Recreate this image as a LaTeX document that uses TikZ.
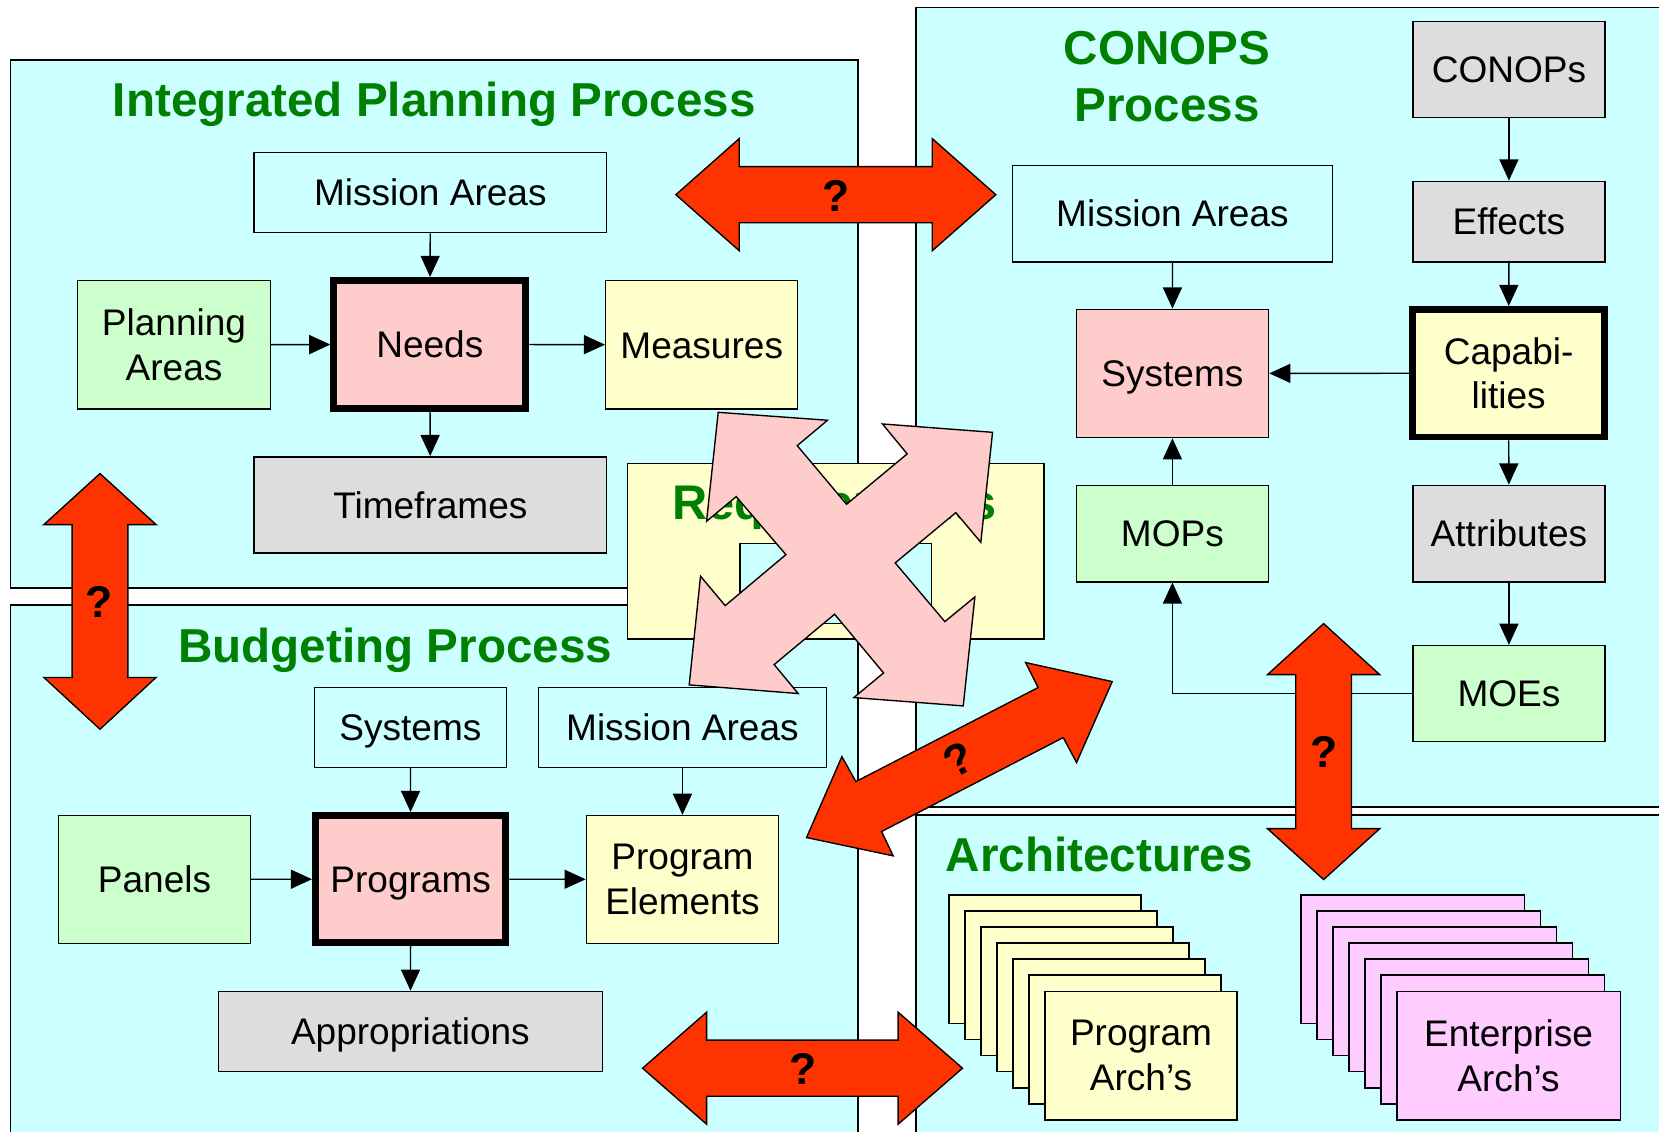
\documentclass[tikz,border=0pt]{standalone}
\usepackage{fontspec}
\setmainfont{Liberation Sans}
\usetikzlibrary{arrows.meta}
\definecolor{bgc}{HTML}{CCFFFF}
\definecolor{grn}{HTML}{CCFFCC}
\definecolor{pnk}{HTML}{FFCCCC}
\definecolor{ylw}{HTML}{FFFFCC}
\definecolor{gry}{HTML}{DDDDDD}
\definecolor{mgt}{HTML}{FFCCFF}
\definecolor{redarr}{HTML}{FF3300}
\definecolor{ttl}{HTML}{008000}
\begin{document}
\begin{tikzpicture}[x=1pt,y=-1pt,
  frame/.style={draw=black, line width=1.6pt, fill=bgc},
  bx/.style={draw=black, line width=1.3pt, inner sep=0pt, align=center,
             font=\fontsize{35}{42}\selectfont},
  sl/.style={text height=25.1pt, text depth=0pt},
  thickbox/.style={bx, line width=6.5pt},
  conn/.style={line width=1.3pt, -{Triangle[length=20pt,width=18pt]}},
  ttlf/.style={text=ttl, font=\fontsize{45}{54}\selectfont\bfseries, inner sep=0pt, align=center},
  redshape/.style={draw=black, line width=1.3pt, fill=redarr, line join=miter},
  qm/.style={font=\fontsize{42}{42}\selectfont\bfseries, inner sep=0pt},
  stk/.style={draw=black, line width=1.6pt},
]
\clip (0,0) rectangle (1568,1069);
\fill[white] (0,0) rectangle (1568,1069);

% frames
\draw[frame] (10,57) rectangle (811,555.5);
\draw[frame] (10,571.5) rectangle (811,1100);
\draw[frame] (866,7) rectangle (1600,763);
\draw[frame] (866,770.5) rectangle (1600,1100);

% titles
\node[ttlf, anchor=base] (tIPP) at (410.5,110) {Integrated Planning Process};
\node[ttlf] (tCON) at (1103,72.5) {CONOPS\\Process};
\node[ttlf, anchor=base] (tBUD) at (373.6,626.6) {Budgeting Process};
\node[ttlf, anchor=base] (tARC) at (1039,823.4) {Architectures};

% requirements box
\draw[line width=1.3pt, fill=ylw] (593.1,437.8) rectangle (986.6,604.1);
\node[ttlf, anchor=base, font=\fontsize{46}{54}\selectfont\bfseries] (tREQ) at (789,491) {Requirements};
\draw[line width=1.3pt, fill=bgc] (699.3,513.4) rectangle (880.4,589);

% Integrated planning process
\node[bx, sl, fill=bgc, minimum width=333.5pt, minimum height=76pt] (ipMA) at (406.75,182) {Mission Areas};
\node[bx, fill=grn, minimum width=182pt, minimum height=121pt] (ipPA) at (164.5,325.9) {Planning\\Areas};
\node[thickbox, sl, fill=pnk, minimum width=181.5pt, minimum height=121pt] (ipNeeds) at (406.25,325.5) {Needs};
\node[bx, sl, fill=ylw, minimum width=181.5pt, minimum height=121pt] (ipMeas) at (663.25,325.9) {Measures};
\node[bx, sl, fill=gry, minimum width=333.5pt, minimum height=91pt] (ipTime) at (406.75,477.25) {Timeframes};
\draw[conn] (ipMA) -- (ipNeeds);
\draw[conn] (ipPA) -- (ipNeeds);
\draw[conn] (ipNeeds) -- (ipMeas);
\draw[conn] (ipNeeds) -- (ipTime);

% CONOPS process
\node[bx, sl, fill=gry, minimum width=181.3pt, minimum height=91pt] (cCON) at (1426.15,65.75) {CONOPs};
\node[bx, sl, fill=gry, minimum width=181.3pt, minimum height=76.2pt] (cEff) at (1426.15,209.4) {Effects};
\node[bx, sl, fill=bgc, minimum width=302.7pt, minimum height=91.2pt] (cMA) at (1108.15,201.9) {Mission Areas};
\node[bx, sl, fill=pnk, minimum width=181.8pt, minimum height=121.3pt] (cSys) at (1108.1,352.95) {Systems};
\node[thickbox, fill=ylw, minimum width=181pt, minimum height=120.5pt] (cCap) at (1425.9,352.75) {Capabi-\\lities};
\node[bx, sl, fill=grn, minimum width=181.8pt, minimum height=91.2pt] (cMOP) at (1108.1,504.3) {MOPs};
\node[bx, sl, fill=gry, minimum width=181.3pt, minimum height=91.2pt] (cAttr) at (1426.15,504.3) {Attributes};
\node[bx, sl, fill=grn, minimum width=181.3pt, minimum height=90.5pt] (cMOE) at (1426.15,655.35) {MOEs};
\draw[conn] (cCON) -- (cEff);
\draw[conn] (cEff) -- (cCap);
\draw[conn] (cMA) -- (cSys);
\draw[conn] (cCap) -- (cSys);
\draw[conn] (cMOP) -- (cSys);
\draw[conn] (cCap) -- (cAttr);
\draw[conn] (cAttr) -- (cMOE);
\draw[conn] (cMOE.west) -| (cMOP.south);

% Budgeting process
\node[bx, sl, fill=bgc, minimum width=181.6pt, minimum height=75.7pt] (bSys) at (387.9,687.45) {Systems};
\node[bx, sl, fill=bgc, minimum width=272.6pt, minimum height=75.7pt] (bMA) at (645,687.45) {Mission Areas};
\node[bx, sl, fill=grn, minimum width=181.1pt, minimum height=120.7pt] (bPan) at (146.05,831.15) {Panels};
\node[thickbox, sl, fill=pnk, minimum width=180pt, minimum height=120.3pt] (bProg) at (388.15,830.85) {Programs};
\node[bx, fill=ylw, minimum width=181.6pt, minimum height=120.7pt] (bPE) at (645,831.15) {Program\\Elements};
\node[bx, sl, fill=gry, minimum width=362.6pt, minimum height=75.7pt] (bApp) at (387.9,974.85) {Appropriations};
\draw[conn] (bSys) -- (bProg);
\draw[conn] (bMA) -- (bPE);
\draw[conn] (bPan) -- (bProg);
\draw[conn] (bProg) -- (bPE);
\draw[conn] (bProg) -- (bApp);

% Architectures stacks
\foreach \i in {0,...,5}
  \draw[stk, fill=ylw] ({896.8+15.15*\i},{845.8+15.2*\i}) rectangle ++(181.4,121.4);
\node[bx, stk, fill=ylw, minimum width=181.4pt, minimum height=121.4pt] (aProg) at (1078.4,997.7) {Program\\Arch’s};
\foreach \i in {0,...,5}
  \draw[stk, fill=mgt] ({1229.5+15.1*\i},{845.8+15.2*\i}) rectangle ++(211.4,121.4);
\node[bx, stk, fill=mgt, minimum width=211.4pt, minimum height=121.4pt] (aEnt) at (1425.8,997.7) {Enterprise\\Arch’s};

% pink quad arrow
\draw[draw=black, line width=1.3pt, fill=pnk, line join=miter]
  (678.8,389.7) -- (782.1,397.2) -- (753.5,421.2) -- (800.1,476.6) -- (857.4,429.0)
  -- (834.1,400.7) -- (938.1,408.6) -- (927.0,512.5) -- (903.4,484.5) -- (846.1,532.0)
  -- (893.0,587.5) -- (921.4,564.2) -- (910.4,667.2) -- (807.0,659.3) -- (835.1,636.0)
  -- (788.8,580.5) -- (731.7,628.1) -- (754.4,655.5) -- (651.4,647.3) -- (662.1,544.6)
  -- (685.4,572.4) -- (742.8,524.2) -- (695.8,469.4) -- (667.8,492.7) -- cycle;

% red double arrows
\draw[redshape] (638.8,184) -- (698.7,131) -- (698.7,157.5) -- (881.1,157.5) -- (881.1,131)
  -- (941.2,184) -- (881.1,237) -- (881.1,210.5) -- (698.7,210.5) -- (698.7,237) -- cycle;
\node[qm] (q1) at (790.2,185.6) {?};

\draw[redshape] (607.3,1009.6) -- (667.8,956.7) -- (667.8,983.1) -- (848.9,983.1) -- (848.9,956.7)
  -- (909.7,1009.6) -- (848.9,1062.5) -- (848.9,1036.1) -- (667.8,1036.1) -- (667.8,1062.5) -- cycle;
\node[qm] (q2) at (759.2,1010.4) {?};

\draw[redshape] (94.5,447.6) -- (147.5,495.8) -- (120.8,495.8) -- (120.8,640.3) -- (147.5,640.3)
  -- (94.5,689.2) -- (41.5,640.3) -- (68.2,640.3) -- (68.2,495.8) -- (41.5,495.8) -- cycle;
\node[qm] (q3) at (93.8,568.8) {?};

\draw[redshape] (1251,589.4) -- (1304,637.6) -- (1277.3,637.6) -- (1277.3,783.2) -- (1304,783.2)
  -- (1251,831.3) -- (1198,783.2) -- (1224.7,783.2) -- (1224.7,637.6) -- (1198,637.6) -- cycle;
\node[qm] (q4) at (1251.2,710.4) {?};

\draw[redshape] (762.3,791.6) -- (795.7,715.1) -- (808.9,738.7) -- (981.2,649.8) -- (969.3,626.2)
  -- (1051.2,644.2) -- (1017.5,720.7) -- (1004.9,697.1) -- (833.2,785.9) -- (844.2,808.9) -- cycle;
\node[qm, rotate=27] (q5) at (905.5,718) {?};
\end{tikzpicture}
\end{document}
